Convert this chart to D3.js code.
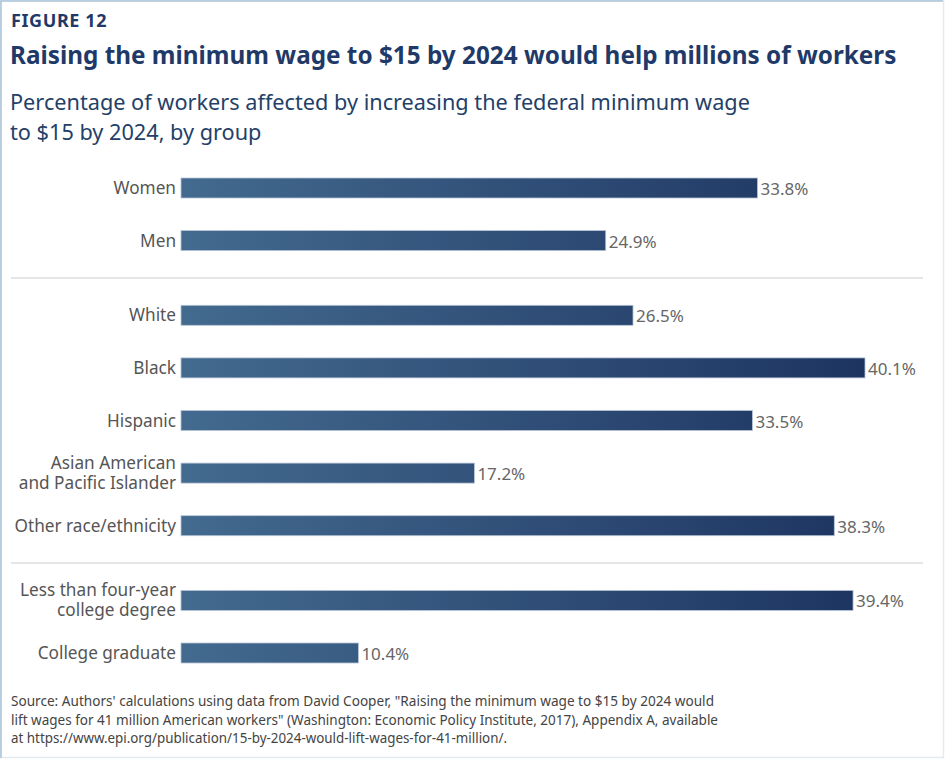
<!DOCTYPE html>
<html>
<head>
<meta charset="utf-8">
<script src="https://cdn.jsdelivr.net/npm/d3@7"></script>
<style>
  body { margin: 0; background: #fff; }
  svg { display: block; }
</style>
</head>
<body>
<svg id="chart"></svg>
<script>
// data
const categories = [
  ["Women"],
  ["Men"],
  ["White"],
  ["Black"],
  ["Hispanic"],
  ["Asian American", "and Pacific Islander"],
  ["Other race/ethnicity"],
  ["Less than four-year", "college degree"],
  ["College graduate"]
];
const values = [33.8, 24.9, 26.5, 40.1, 33.5, 17.2, 38.3, 39.4, 10.4];
const groups = [0, 0, 1, 1, 1, 1, 1, 2, 2];

const sourceLines = [
  "Source: Authors' calculations using data from David Cooper, \"Raising the minimum wage to $15 by 2024 would",
  "lift wages for 41 million American workers\" (Washington: Economic Policy Institute, 2017), Appendix A, available",
  "at https://www.epi.org/publication/15-by-2024-would-lift-wages-for-41-million/."
];

const W = 945, H = 759;
const navy = "#1f3a68";
const font = "'Noto Sans', 'Open Sans', sans-serif";

const svg = d3.select("#chart").attr("width", W).attr("height", H);

// frame
svg.append("rect").attr("x", 0.5).attr("y", 0.5).attr("width", W - 2).attr("height", H - 2)
  .attr("fill", "#fff").attr("stroke", "#e3eaf1").attr("stroke-width", 1.5);
svg.append("path").attr("d", `M1,${H - 1}V1H${W - 2}`)
  .attr("fill", "none").attr("stroke", "#a9c3d8").attr("stroke-width", 1.5);

// headings
svg.append("text").attr("x", 11).attr("y", 27).text("FIGURE 12")
  .attr("font-family", font).attr("font-weight", 700).attr("font-size", 18)
  .attr("letter-spacing", 0.6).attr("fill", navy);
svg.append("text").attr("x", 10).attr("y", 64).text("Raising the minimum wage to $15 by 2024 would help millions of workers")
  .attr("font-family", font).attr("font-weight", 700).attr("font-size", 24.3).attr("fill", navy);
svg.append("text").attr("x", 10).attr("y", 110)
  .text("Percentage of workers affected by increasing the federal minimum wage")
  .attr("font-family", font).attr("font-size", 21.7).attr("fill", "#243f68");
svg.append("text").attr("x", 10).attr("y", 140).text("to $15 by 2024, by group")
  .attr("font-family", font).attr("font-size", 21.7).attr("fill", "#243f68");

// scales
const groupGap = 0.42;
const slot = (i) => i + groups[i] * groupGap;
const x = d3.scaleLinear().domain([0, 40.1]).range([181, 865]);
const y = d3.scaleLinear().domain([0, slot(values.length - 1)]).range([188, 653]);
const barH = 20;

// gradient spans the whole value range
const defs = svg.append("defs");
const grad = defs.append("linearGradient").attr("id", "barGrad")
  .attr("gradientUnits", "userSpaceOnUse")
  .attr("x1", x(0)).attr("x2", x(40.1)).attr("y1", 0).attr("y2", 0);
grad.append("stop").attr("offset", 0).attr("stop-color", "#436a8f");
grad.append("stop").attr("offset", 1).attr("stop-color", "#1d3461");

// separators between groups
const seps = d3.range(1, 3).map((g) => {
  const last = groups.lastIndexOf(g - 1);
  return (y(slot(last)) + y(slot(last + 1))) / 2;
});
svg.selectAll(".sep").data(seps).join("line").attr("class", "sep")
  .attr("x1", 11).attr("x2", 923).attr("y1", (d) => d).attr("y2", (d) => d)
  .attr("stroke", "#dcdcdc").attr("stroke-width", 1.5);

// bars
svg.selectAll(".bar").data(values).join("rect").attr("class", "bar")
  .attr("x", x(0))
  .attr("y", (d, i) => y(slot(i)) - barH / 2)
  .attr("width", (d) => x(d) - x(0))
  .attr("height", barH)
  .attr("fill", "url(#barGrad)")
  .attr("stroke", "#b7c4d6").attr("stroke-width", 0.8);

// category labels
const lab = svg.selectAll(".lab").data(categories).join("text").attr("class", "lab")
  .attr("x", 176)
  .attr("y", (d, i) => y(slot(i)))
  .attr("text-anchor", "end")
  .attr("font-family", font).attr("font-size", 17.2).attr("fill", "#555");
lab.selectAll("tspan").data((d) => d.map((t, k) => ({ t, k, n: d.length })))
  .join("tspan")
  .attr("x", 176)
  .attr("y", function (d) {
    const cy = +this.parentNode.getAttribute("y");
    return cy + 6 + (d.k - (d.n - 1) / 2) * 20;
  })
  .text((d) => d.t);

// value labels
svg.selectAll(".val").data(values).join("text").attr("class", "val")
  .attr("x", (d) => x(d) + 3)
  .attr("y", (d, i) => y(slot(i)) + 7)
  .text((d) => d.toFixed(1) + "%")
  .attr("font-family", font).attr("font-size", 17).attr("fill", "#666");

// source
const srcWidths = [703, 707, 496];
svg.selectAll(".src").data(sourceLines).join("text").attr("class", "src")
  .attr("x", 11)
  .attr("y", (d, i) => 706 + i * 18.5)
  .attr("textLength", (d, i) => srcWidths[i])
  .attr("lengthAdjust", "spacingAndGlyphs")
  .text((d) => d)
  .attr("font-family", font).attr("font-size", 13.5).attr("fill", "#444");
</script>
</body>
</html>
